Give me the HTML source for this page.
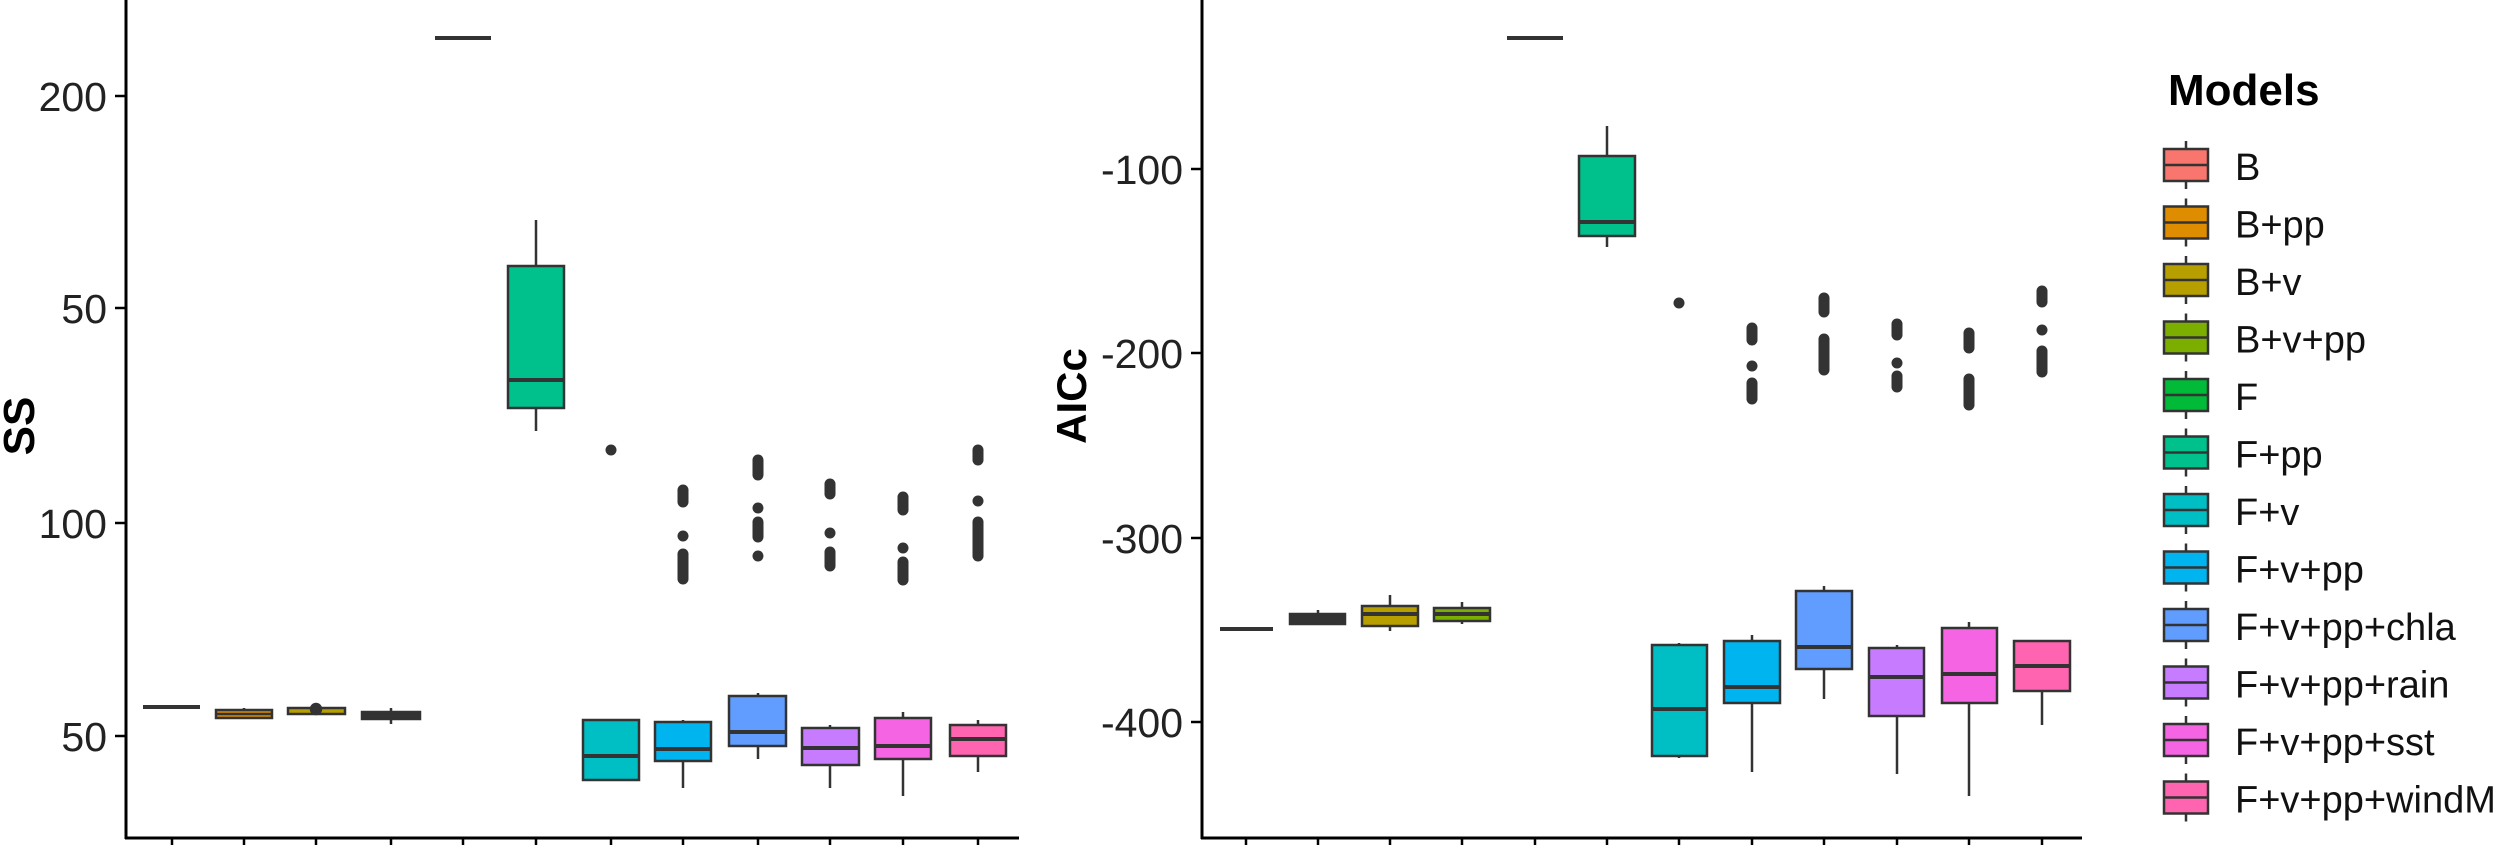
<!DOCTYPE html>
<html><head><meta charset="utf-8"><style>
html,body{margin:0;padding:0;background:#fff;}
svg{display:block;}
text{font-family:"Liberation Sans",Arial,sans-serif;}
</style></head><body>
<svg width="2500" height="845" viewBox="0 0 2500 845" xmlns="http://www.w3.org/2000/svg">
<g stroke="#000" stroke-width="3" fill="none">
<line x1="126" y1="0" x2="126" y2="839"/>
<line x1="125" y1="838" x2="1019" y2="838"/>
<line x1="1202" y1="0" x2="1202" y2="839"/>
<line x1="1201" y1="838" x2="2082" y2="838"/>
</g>
<g stroke="#000" stroke-width="2.5">
<line x1="115" y1="96" x2="126" y2="96"/><line x1="115" y1="308" x2="126" y2="308"/>
<line x1="115" y1="523" x2="126" y2="523"/><line x1="115" y1="736" x2="126" y2="736"/>
<line x1="1191" y1="169" x2="1202" y2="169"/><line x1="1191" y1="353" x2="1202" y2="353"/>
<line x1="1191" y1="538" x2="1202" y2="538"/><line x1="1191" y1="722" x2="1202" y2="722"/>
<g id="lt">
<line x1="172" y1="838" x2="172" y2="849"/><line x1="244" y1="838" x2="244" y2="849"/>
<line x1="316" y1="838" x2="316" y2="849"/><line x1="391" y1="838" x2="391" y2="849"/>
<line x1="463" y1="838" x2="463" y2="849"/><line x1="536" y1="838" x2="536" y2="849"/>
<line x1="611" y1="838" x2="611" y2="849"/><line x1="683" y1="838" x2="683" y2="849"/>
<line x1="758" y1="838" x2="758" y2="849"/><line x1="830" y1="838" x2="830" y2="849"/>
<line x1="903" y1="838" x2="903" y2="849"/><line x1="978" y1="838" x2="978" y2="849"/>
</g>
<line x1="1246" y1="838" x2="1246" y2="849"/><line x1="1318" y1="838" x2="1318" y2="849"/>
<line x1="1390" y1="838" x2="1390" y2="849"/><line x1="1462" y1="838" x2="1462" y2="849"/>
<line x1="1535" y1="838" x2="1535" y2="849"/><line x1="1607" y1="838" x2="1607" y2="849"/>
<line x1="1679" y1="838" x2="1679" y2="849"/><line x1="1752" y1="838" x2="1752" y2="849"/>
<line x1="1824" y1="838" x2="1824" y2="849"/><line x1="1897" y1="838" x2="1897" y2="849"/>
<line x1="1969" y1="838" x2="1969" y2="849"/><line x1="2042" y1="838" x2="2042" y2="849"/>
</g>
<g font-size="41" fill="#222" text-anchor="end">
<text x="107" y="111">200</text><text x="107" y="323">50</text>
<text x="107" y="538">100</text><text x="107" y="751">50</text>
<text x="1183" y="184">-100</text><text x="1183" y="368">-200</text>
<text x="1183" y="553">-300</text><text x="1183" y="737">-400</text>
</g>
<text transform="translate(34,426) rotate(-90)" font-size="44" font-weight="bold" text-anchor="middle">SS</text>
<text transform="translate(1086,396) rotate(-90)" font-size="42" font-weight="bold" text-anchor="middle">AICc</text>

<!-- Left panel boxes -->
<g stroke="#333" stroke-width="2.5">
<line x1="143" y1="707" x2="200" y2="707" stroke-width="4"/>
<rect x="216" y="710" width="56" height="8" fill="#DE8C00"/><line x1="216" y1="714" x2="272" y2="714"/>
<line x1="244" y1="708" x2="244" y2="710"/>
<rect x="288" y="708" width="57" height="6" fill="#B79F00"/><circle cx="316" cy="709" r="5" fill="#333"/>
<line x1="391" y1="708" x2="391" y2="724"/><rect x="362" y="712" width="58" height="7" fill="#333"/>
<line x1="435" y1="38" x2="491" y2="38" stroke-width="4"/>
<line x1="536" y1="220" x2="536" y2="431"/>
<rect x="508" y="266" width="56" height="142" fill="#00C08B"/><line x1="508" y1="380" x2="564" y2="380" stroke-width="4"/>
<rect x="583" y="720" width="56" height="60" fill="#00BFC4"/><line x1="583" y1="756" x2="639" y2="756" stroke-width="4"/>
<line x1="683" y1="720" x2="683" y2="788"/>
<rect x="655" y="722" width="56" height="39" fill="#00B4F0"/><line x1="655" y1="749" x2="711" y2="749" stroke-width="4"/>
<line x1="758" y1="693" x2="758" y2="759"/>
<rect x="729" y="696" width="57" height="50" fill="#619CFF"/><line x1="729" y1="732" x2="786" y2="732" stroke-width="4"/>
<line x1="830" y1="725" x2="830" y2="788"/>
<rect x="802" y="728" width="57" height="37" fill="#C77CFF"/><line x1="802" y1="748" x2="859" y2="748" stroke-width="4"/>
<line x1="903" y1="712" x2="903" y2="796"/>
<rect x="875" y="718" width="56" height="41" fill="#F564E3"/><line x1="875" y1="746" x2="931" y2="746" stroke-width="4"/>
<line x1="978" y1="720" x2="978" y2="772"/>
<rect x="950" y="725" width="56" height="31" fill="#FF64B0"/><line x1="950" y1="739" x2="1006" y2="739" stroke-width="4"/>
</g>
<g stroke="#333" stroke-width="11" stroke-linecap="round" fill="none">
<line x1="611" y1="450" x2="611" y2="450"/>
<line x1="683" y1="490" x2="683" y2="502"/><line x1="683" y1="536" x2="683" y2="536"/><line x1="683" y1="554" x2="683" y2="579"/>
<line x1="758" y1="460" x2="758" y2="475"/><line x1="758" y1="508" x2="758" y2="508"/><line x1="758" y1="522" x2="758" y2="537"/><line x1="758" y1="556" x2="758" y2="556"/>
<line x1="830" y1="484" x2="830" y2="494"/><line x1="830" y1="533" x2="830" y2="533"/><line x1="830" y1="552" x2="830" y2="566"/>
<line x1="903" y1="497" x2="903" y2="510"/><line x1="903" y1="548" x2="903" y2="548"/><line x1="903" y1="562" x2="903" y2="580"/>
<line x1="978" y1="450" x2="978" y2="460"/><line x1="978" y1="501" x2="978" y2="501"/><line x1="978" y1="522" x2="978" y2="556"/>
</g>

<!-- Right panel boxes -->
<g stroke="#333" stroke-width="2.5">
<line x1="1220" y1="629" x2="1273" y2="629" stroke-width="4"/>
<line x1="1318" y1="610" x2="1318" y2="614"/><rect x="1290" y="614" width="55" height="10" fill="#333"/>
<line x1="1390" y1="595" x2="1390" y2="631"/>
<rect x="1362" y="606" width="56" height="20" fill="#B79F00"/><line x1="1362" y1="614" x2="1418" y2="614" stroke-width="4"/>
<line x1="1462" y1="602" x2="1462" y2="624"/>
<rect x="1434" y="608" width="56" height="13" fill="#7CAE00"/><line x1="1434" y1="614" x2="1490" y2="614" stroke-width="4"/>
<line x1="1507" y1="38" x2="1563" y2="38" stroke-width="4"/>
<line x1="1607" y1="126" x2="1607" y2="247"/>
<rect x="1579" y="156" width="56" height="80" fill="#00C08B"/><line x1="1579" y1="222" x2="1635" y2="222" stroke-width="4"/>
<line x1="1679" y1="643" x2="1679" y2="758"/>
<rect x="1652" y="645" width="55" height="111" fill="#00BFC4"/><line x1="1652" y1="709" x2="1707" y2="709" stroke-width="4"/>
<line x1="1752" y1="635" x2="1752" y2="772"/>
<rect x="1724" y="641" width="56" height="62" fill="#00B4F0"/><line x1="1724" y1="687" x2="1780" y2="687" stroke-width="4"/>
<line x1="1824" y1="586" x2="1824" y2="699"/>
<rect x="1796" y="591" width="56" height="78" fill="#619CFF"/><line x1="1796" y1="647" x2="1852" y2="647" stroke-width="4"/>
<line x1="1897" y1="645" x2="1897" y2="774"/>
<rect x="1869" y="648" width="55" height="68" fill="#C77CFF"/><line x1="1869" y1="677" x2="1924" y2="677" stroke-width="4"/>
<line x1="1969" y1="622" x2="1969" y2="796"/>
<rect x="1942" y="628" width="55" height="75" fill="#F564E3"/><line x1="1942" y1="674" x2="1997" y2="674" stroke-width="4"/>
<line x1="2042" y1="691" x2="2042" y2="725"/>
<rect x="2014" y="641" width="56" height="50" fill="#FF64B0"/><line x1="2014" y1="666" x2="2070" y2="666" stroke-width="4"/>
</g>
<g stroke="#333" stroke-width="11" stroke-linecap="round" fill="none">
<line x1="1679" y1="303" x2="1679" y2="303"/>
<line x1="1752" y1="328" x2="1752" y2="340"/><line x1="1752" y1="366" x2="1752" y2="366"/><line x1="1752" y1="383" x2="1752" y2="399"/>
<line x1="1824" y1="298" x2="1824" y2="312"/><line x1="1824" y1="339" x2="1824" y2="370"/>
<line x1="1897" y1="324" x2="1897" y2="335"/><line x1="1897" y1="363" x2="1897" y2="363"/><line x1="1897" y1="376" x2="1897" y2="387"/>
<line x1="1969" y1="333" x2="1969" y2="348"/><line x1="1969" y1="379" x2="1969" y2="405"/>
<line x1="2042" y1="291" x2="2042" y2="302"/><line x1="2042" y1="330" x2="2042" y2="330"/><line x1="2042" y1="351" x2="2042" y2="372"/>
</g>

<!-- Legend -->
<text x="2168" y="105" font-size="44" font-weight="bold">Models</text>
<g stroke="#333" stroke-width="2.5">
<g transform="translate(0,0)"><line x1="2186" y1="141" x2="2186" y2="189"/><rect x="2164" y="149" width="44" height="32" fill="#F8766D"/><line x1="2164" y1="165" x2="2208" y2="165"/></g>
<g transform="translate(0,57.5)"><line x1="2186" y1="141" x2="2186" y2="189"/><rect x="2164" y="149" width="44" height="32" fill="#DE8C00"/><line x1="2164" y1="165" x2="2208" y2="165"/></g>
<g transform="translate(0,115)"><line x1="2186" y1="141" x2="2186" y2="189"/><rect x="2164" y="149" width="44" height="32" fill="#B79F00"/><line x1="2164" y1="165" x2="2208" y2="165"/></g>
<g transform="translate(0,172.5)"><line x1="2186" y1="141" x2="2186" y2="189"/><rect x="2164" y="149" width="44" height="32" fill="#7CAE00"/><line x1="2164" y1="165" x2="2208" y2="165"/></g>
<g transform="translate(0,230)"><line x1="2186" y1="141" x2="2186" y2="189"/><rect x="2164" y="149" width="44" height="32" fill="#00BA38"/><line x1="2164" y1="165" x2="2208" y2="165"/></g>
<g transform="translate(0,287.5)"><line x1="2186" y1="141" x2="2186" y2="189"/><rect x="2164" y="149" width="44" height="32" fill="#00C08B"/><line x1="2164" y1="165" x2="2208" y2="165"/></g>
<g transform="translate(0,345)"><line x1="2186" y1="141" x2="2186" y2="189"/><rect x="2164" y="149" width="44" height="32" fill="#00BFC4"/><line x1="2164" y1="165" x2="2208" y2="165"/></g>
<g transform="translate(0,402.5)"><line x1="2186" y1="141" x2="2186" y2="189"/><rect x="2164" y="149" width="44" height="32" fill="#00B4F0"/><line x1="2164" y1="165" x2="2208" y2="165"/></g>
<g transform="translate(0,460)"><line x1="2186" y1="141" x2="2186" y2="189"/><rect x="2164" y="149" width="44" height="32" fill="#619CFF"/><line x1="2164" y1="165" x2="2208" y2="165"/></g>
<g transform="translate(0,517.5)"><line x1="2186" y1="141" x2="2186" y2="189"/><rect x="2164" y="149" width="44" height="32" fill="#C77CFF"/><line x1="2164" y1="165" x2="2208" y2="165"/></g>
<g transform="translate(0,575)"><line x1="2186" y1="141" x2="2186" y2="189"/><rect x="2164" y="149" width="44" height="32" fill="#F564E3"/><line x1="2164" y1="165" x2="2208" y2="165"/></g>
<g transform="translate(0,632.5)"><line x1="2186" y1="141" x2="2186" y2="189"/><rect x="2164" y="149" width="44" height="32" fill="#FF64B0"/><line x1="2164" y1="165" x2="2208" y2="165"/></g>
</g>
<g font-size="38" fill="#111">
<text x="2235" y="180">B</text>
<text x="2235" y="237.5">B+pp</text>
<text x="2235" y="295">B+v</text>
<text x="2235" y="352.5">B+v+pp</text>
<text x="2235" y="410">F</text>
<text x="2235" y="467.5">F+pp</text>
<text x="2235" y="525">F+v</text>
<text x="2235" y="582.5">F+v+pp</text>
<text x="2235" y="640">F+v+pp+chla</text>
<text x="2235" y="697.5">F+v+pp+rain</text>
<text x="2235" y="755">F+v+pp+sst</text>
<text x="2235" y="812.5">F+v+pp+windM</text>
</g>
</svg>
</body></html>
